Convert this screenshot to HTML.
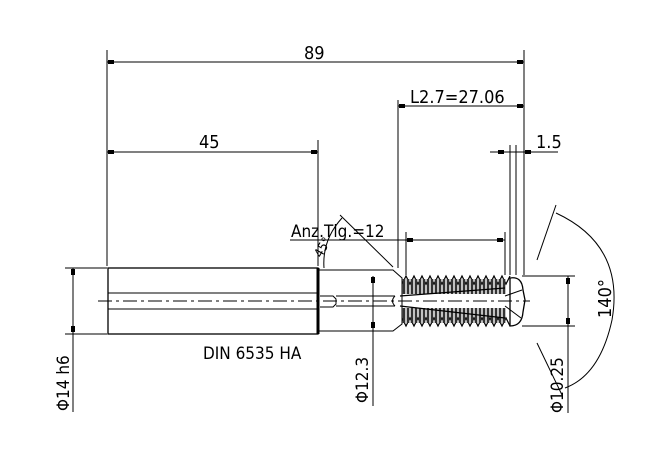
<!DOCTYPE html>
<html><head><style>body{margin:0;background:#fff}svg{display:block}text{font-family:"DejaVu Sans Condensed","Liberation Sans",sans-serif;fill:#000}</style></head>
<body>
<svg width="670" height="460" viewBox="0 0 670 460" xmlns="http://www.w3.org/2000/svg" stroke="#000" fill="none" stroke-width="1">
<line x1="107" y1="50" x2="107" y2="266"/>
<line x1="524" y1="50" x2="524" y2="275"/>
<line x1="318" y1="140" x2="318" y2="266"/>
<line x1="398" y1="100" x2="398" y2="268"/>
<line x1="510" y1="145" x2="510" y2="275"/>
<line x1="516" y1="145" x2="516" y2="275"/>
<line x1="107" y1="62" x2="524" y2="62"/>
<text x="304" y="59" font-size="18" stroke="none">89</text>
<line x1="107" y1="152" x2="318" y2="152"/>
<text x="199" y="148" font-size="18" stroke="none">45</text>
<line x1="398" y1="106" x2="524" y2="106"/>
<text x="410" y="103" font-size="18" stroke="none">L2.7=27.06</text>
<line x1="490" y1="152" x2="558" y2="152"/>
<text x="536" y="148" font-size="18" stroke="none">1.5</text>
<line x1="290" y1="240" x2="406" y2="240"/>
<line x1="406" y1="240" x2="505" y2="240"/>
<line x1="406" y1="232" x2="406" y2="275"/>
<line x1="505" y1="232" x2="505" y2="275"/>
<text x="291" y="237" font-size="17" stroke="none">Anz.Tlg.=12</text>
<line x1="340" y1="215" x2="393" y2="267"/>
<path d="M342 218 Q322 240 324 268"/>
<text x="314" y="258" font-size="13" stroke="none" transform="rotate(-60 318 252)">45°</text>
<g fill="#000" stroke="none">
<rect x="108" y="60" width="6" height="4"/><rect x="517" y="60" width="6" height="4"/>
<rect x="108" y="150" width="6" height="4"/><rect x="311" y="150" width="6" height="4"/>
<rect x="399" y="104" width="6" height="4"/><rect x="517" y="104" width="6" height="4"/>
<rect x="498" y="150" width="6" height="4"/><rect x="525" y="150" width="6" height="4"/>
<rect x="407" y="238" width="6" height="4"/><rect x="497" y="238" width="6" height="4"/>
<rect x="71" y="269" width="4" height="6"/><rect x="71" y="326" width="4" height="6"/>
<rect x="371" y="277" width="4" height="6"/><rect x="371" y="322" width="4" height="6"/>
<rect x="566" y="278" width="4" height="6"/><rect x="566" y="318" width="4" height="6"/>
</g>
<rect x="108" y="268" width="210" height="66" stroke-width="1.3"/>
<line x1="108" y1="293" x2="318" y2="293"/>
<line x1="108" y1="309" x2="318" y2="309"/>
<line x1="318" y1="268" x2="318" y2="334" stroke-width="3"/>
<path d="M318 270 H393 L402 278 V324 L393 331 H318"/>
<path d="M320 296 H333 L336 299 V304 L333 307 H320"/>
<path d="M336 296 H395 M336 306 H395"/>
<path d="M395 296 Q390 301 395 306"/>
<g stroke-width="1.2">
<path d="M402 284 L406 276 L410 284 L414 276 L418 284 L422 276 L426 284 L430 276 L434 284 L438 276 L442 284 L446 276 L450 284 L454 276 L458 284 L462 276 L466 284 L470 276 L474 284 L478 276 L482 284 L486 276 L490 284 L494 276 L498 284 L502 276 L506 284 L510 276"/>
<path d="M402 318 L406 326 L410 318 L414 326 L418 318 L422 326 L426 318 L430 326 L434 318 L438 326 L442 318 L446 326 L450 318 L454 326 L458 318 L462 326 L466 318 L470 326 L474 318 L478 326 L482 318 L486 326 L490 318 L494 326 L498 318 L502 326 L506 318 L510 326"/>
</g>
<g stroke-width="2.6" stroke="#333">
<path d="M404 279 V294 M408 279 V294 M412 279 V294 M416 279 V294 M420 279 V294 M424 279 V294 M428 279 V294 M432 279 V294 M436 279 V294 M440 279 V294 M444 279 V294 M448 279 V294 M452 279 V294 M456 279 V294 M460 279 V294 M464 279 V294 M468 279 V294 M472 279 V294 M476 279 V294 M480 279 V294 M484 279 V294 M488 279 V294 M492 279 V294 M496 279 V294 M500 279 V294 M504 279 V294"/>
<path d="M404 308 V323 M408 308 V323 M412 308 V323 M416 308 V323 M420 308 V323 M424 308 V323 M428 308 V323 M432 308 V323 M436 308 V323 M440 308 V323 M444 308 V323 M448 308 V323 M452 308 V323 M456 308 V323 M460 308 V323 M464 308 V323 M468 308 V323 M472 308 V323 M476 308 V323 M480 308 V323 M484 308 V323 M488 308 V323 M492 308 V323 M496 308 V323 M500 308 V323 M504 308 V323"/>
</g>
<path d="M400 296 L505 288 M400 306 L505 318" stroke-width="1.2"/>
<path d="M510 278 Q522 276 523 290 L525 300 L523 312 Q522 326 510 326 Z" stroke-width="1.3"/>
<path d="M505 296 L522 290 M505 306 L521 318"/>
<line x1="98" y1="301" x2="530" y2="301" stroke-dasharray="14,4,3,4"/>
<line x1="522" y1="276" x2="575" y2="276"/>
<line x1="522" y1="326" x2="575" y2="326"/>
<line x1="568" y1="276" x2="568" y2="413"/>
<text font-size="17" stroke="none" transform="translate(563 413) rotate(-90)">Φ10.25</text>
<line x1="373" y1="276" x2="373" y2="406"/>
<text font-size="17" stroke="none" transform="translate(368 403) rotate(-90)">Φ12.3</text>
<line x1="65" y1="268" x2="107" y2="268"/>
<line x1="65" y1="334" x2="107" y2="334"/>
<line x1="73" y1="268" x2="73" y2="412"/>
<text font-size="17" stroke="none" transform="translate(69 411) rotate(-90)">Φ14 h6</text>
<text x="203" y="359" font-size="17" stroke="none">DIN 6535 HA</text>
<line x1="537" y1="260" x2="556" y2="205"/>
<line x1="537" y1="343" x2="562" y2="395"/>
<path d="M556 213 Q625 245 612 320 Q600 375 565 388"/>
<text font-size="18" stroke="none" transform="translate(611 318) rotate(-90)">140°</text>
</svg>
</body></html>
